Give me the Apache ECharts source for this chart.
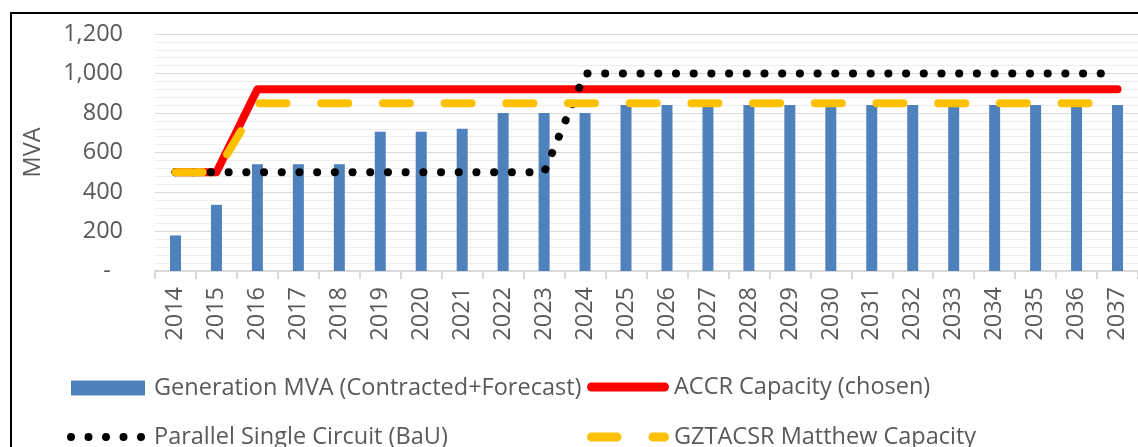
<!DOCTYPE html>
<html>
<head>
<meta charset="utf-8">
<script src="https://cdn.jsdelivr.net/npm/echarts@6/dist/echarts.min.js"></script>
<style>
  html, body { margin: 0; padding: 0; background: #fff; }
  #chart { width: 1138px; height: 447px; }
</style>
</head>
<body>
<div id="chart"></div>
<script>
const years = ['2014', '2015', '2016', '2017', '2018', '2019', '2020', '2021', '2022', '2023', '2024', '2025',
  '2026', '2027', '2028', '2029', '2030', '2031', '2032', '2033', '2034', '2035', '2036', '2037'];
const generationMva = [180, 335, 540, 540, 540, 705, 705, 720, 800, 800, 800, 840,
  840, 840, 840, 840, 840, 840, 840, 840, 840, 840, 840, 840];
const accrCapacity = [500, 500, 920, 920, 920, 920, 920, 920, 920, 920, 920, 920,
  920, 920, 920, 920, 920, 920, 920, 920, 920, 920, 920, 920];
const parallelSingle = [500, 500, 500, 500, 500, 500, 500, 500, 500, 500, 1000, 1000,
  1000, 1000, 1000, 1000, 1000, 1000, 1000, 1000, 1000, 1000, 1000, 1000];
const gztacsrCapacity = [500, 500, 850, 850, 850, 850, 850, 850, 850, 850, 850, 850,
  850, 850, 850, 850, 850, 850, 850, 850, 850, 850, 850, 850];
const yTicks = [0, 200, 400, 600, 800, 1000, 1200];

const FONT = '"Open Sans", sans-serif';
const FS = 23.5;
const GREY = '#595959';

// legend icons, drawn in the same aspect as item size
const redIcon = 'path://M4.5,0 L77.5,0 A4.5,4.5 0 0 1 77.5,9 L4.5,9 A4.5,4.5 0 0 1 4.5,0 Z';
const yellowIcon = 'path://M4.5,0 L30,0 A4.5,4.5 0 0 1 30,9 L4.5,9 A4.5,4.5 0 0 1 4.5,0 Z ' +
  'M66,0 L77.5,0 A4.5,4.5 0 0 1 77.5,9 L66,9 A4.5,4.5 0 0 1 66,0 Z';
let dotIcon = 'path://';
[4, 21.5, 39, 56.5, 74].forEach(cx => {
  dotIcon += 'M' + (cx - 4) + ',4 A4,4 0 1 0 ' + (cx + 4) + ',4 A4,4 0 1 0 ' + (cx - 4) + ',4 Z ';
});

function legendAt(name, left, top, icon, w, h, padLeft) {
  return {
    data: [name],
    left: left,
    top: top,
    padding: 0,
    icon: icon,
    itemWidth: w,
    itemHeight: h,
    selectedMode: false,
    itemStyle: { borderWidth: 0 },
    textStyle: { color: GREY, fontSize: FS, fontFamily: FONT, padding: [0, 0, 0, padLeft] }
  };
}

const chart = echarts.init(document.getElementById('chart'));

const option = {
  animation: false,
  backgroundColor: '#fff',
  graphic: [{
    type: 'rect',
    shape: { x: 11, y: 13, width: 2000, height: 2000 },
    style: { fill: 'none', stroke: '#000', lineWidth: 2 },
    silent: true
  }],
  grid: { left: 155, top: 34, width: 990, height: 237 },
  legend: [
    legendAt('Generation MVA (Contracted+Forecast)', 71, 376, 'rect', 74, 15, 4),
    legendAt('ACCR Capacity (chosen)', 587, 375, redIcon, 82, 9, 0),
    legendAt('Parallel Single Circuit (BaU)', 67, 425, dotIcon, 78, 8, 4),
    legendAt('GZTACSR Matthew Capacity', 587, 425, yellowIcon, 82, 9, 0)
  ],
  xAxis: {
    type: 'category',
    data: years,
    axisLine: { lineStyle: { color: '#d9d9d9', width: 2 } },
    axisTick: { show: true, length: 8, lineStyle: { color: '#d9d9d9', width: 2 } },
    axisLabel: { rotate: 90, margin: 16, color: GREY, fontSize: FS, fontFamily: FONT, interval: 0 }
  },
  yAxis: {
    type: 'value',
    min: yTicks[0],
    max: yTicks[yTicks.length - 1],
    interval: 200,
    name: 'MVA',
    nameLocation: 'middle',
    nameGap: 110,
    nameRotate: 90,
    nameTextStyle: { color: GREY, fontSize: FS, fontFamily: FONT },
    axisLine: { show: false },
    axisTick: { show: false },
    axisLabel: {
      margin: 32,
      color: GREY,
      fontSize: FS,
      fontFamily: FONT,
      formatter: function (v) {
        return v === 0 ? '-  ' : v.toLocaleString('en-US');
      }
    },
    splitLine: { lineStyle: { color: '#d9d9d9', width: 1 } },
    minorTick: { show: false, splitNumber: 5 },
    minorSplitLine: { show: true, lineStyle: { color: '#eeeeee', width: 1 } }
  },
  series: [
    {
      name: 'Generation MVA (Contracted+Forecast)',
      type: 'bar',
      data: generationMva,
      barWidth: 11,
      color: '#4f81bd'
    },
    {
      name: 'ACCR Capacity (chosen)',
      type: 'line',
      data: accrCapacity,
      color: '#ff0000',
      showSymbol: false,
      lineStyle: { color: '#ff0000', width: 8, cap: 'round', join: 'round' }
    },
    {
      name: 'Parallel Single Circuit (BaU)',
      type: 'line',
      data: parallelSingle,
      color: '#000000',
      showSymbol: false,
      lineStyle: { color: '#000000', width: 8, type: [0.1, 17.6], cap: 'round', join: 'round' }
    },
    {
      name: 'GZTACSR Matthew Capacity',
      type: 'line',
      data: gztacsrCapacity,
      color: '#ffc000',
      showSymbol: false,
      lineStyle: { color: '#ffc000', width: 8, type: [27, 34.7], cap: 'round', join: 'round' }
    }
  ]
};

chart.setOption(option);
</script>
</body>
</html>
